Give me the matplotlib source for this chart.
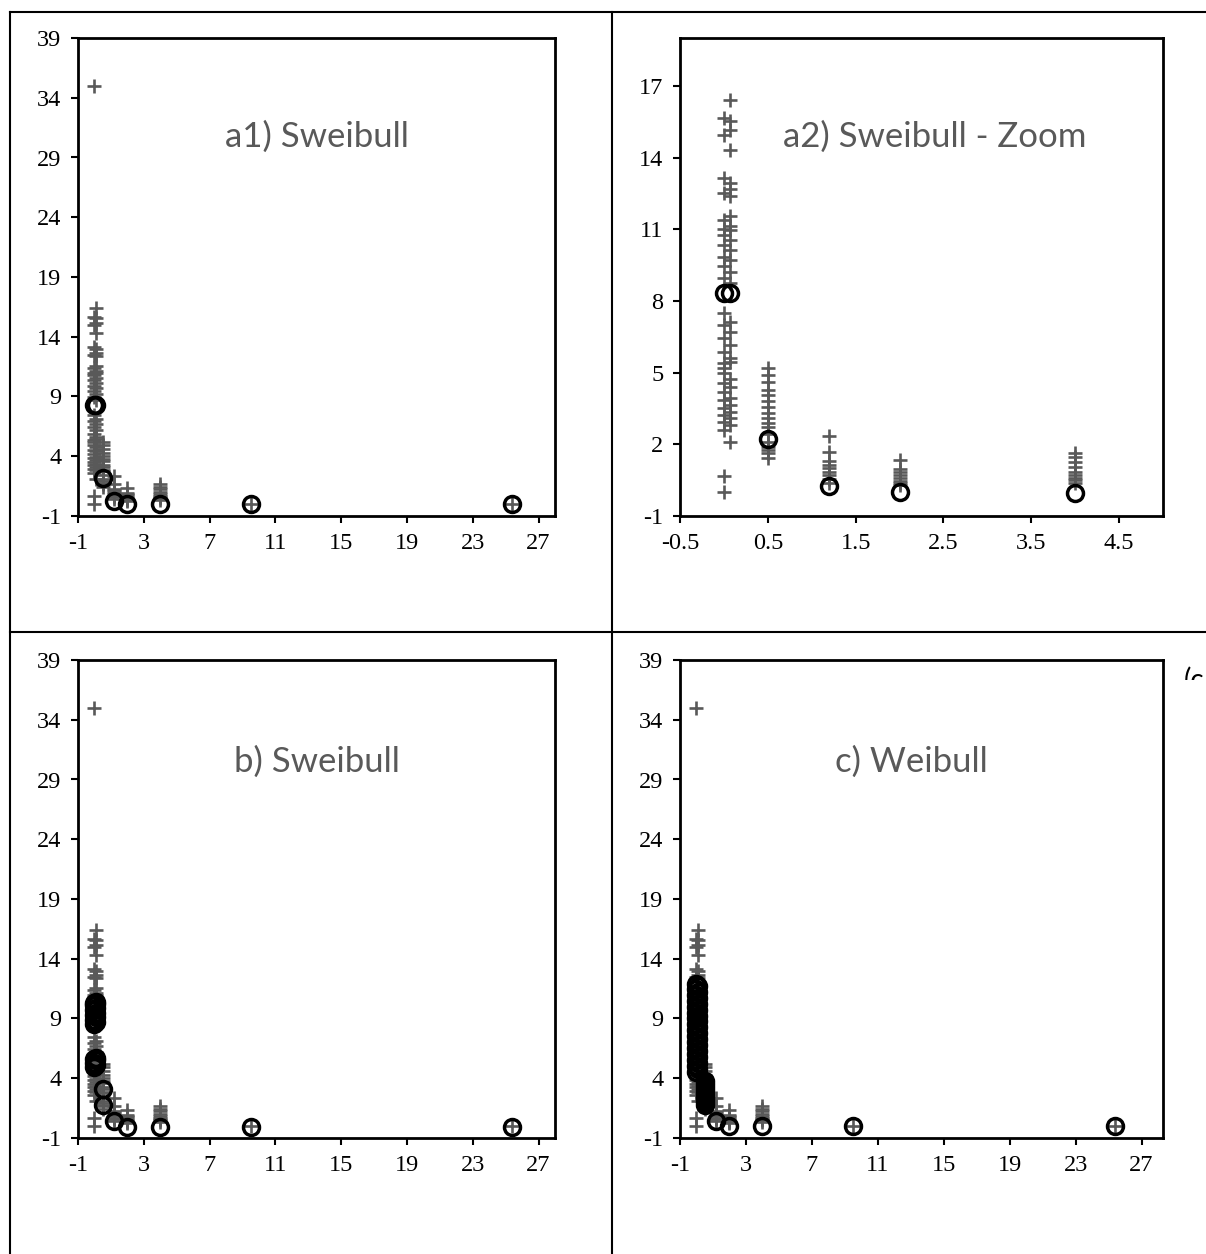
import matplotlib
matplotlib.use("Agg")
import matplotlib.pyplot as plt
from matplotlib.lines import Line2D
from matplotlib.transforms import Bbox, TransformedBbox

# observed values, one list per x level
y_at_0 = [35.0, 15.65, 14.95, 13.14, 12.51, 11.39, 11.0, 10.76, 10.34, 9.85, 9.44,
          8.95, 7.48, 6.99, 6.44, 5.88, 5.39, 5.18, 4.97, 4.55, 4.20, 3.85, 3.51,
          3.23, 2.95, 2.60, 0.67, 0.02]
y_at_0075 = [16.41, 15.53, 15.16, 14.32, 12.95, 12.68, 12.39, 11.56, 11.14, 10.97,
             10.55, 10.13, 9.72, 9.23, 8.74, 7.13, 6.71, 6.16, 5.60, 5.46, 4.75,
             4.41, 3.93, 3.65, 3.37, 3.09, 2.81, 2.11]
y_at_05 = [5.18, 4.90, 4.62, 4.27, 4.06, 3.80, 3.58, 3.30, 3.09, 2.88, 2.74, 2.45,
           2.10, 1.90, 1.75, 1.64, 1.41]
y_at_12 = [2.35, 1.69, 1.30, 1.15, 1.0, 0.85, 0.7, 0.55, 0.4]
y_at_2 = [1.34, 0.95, 0.84, 0.72, 0.6, 0.48, 0.36, 0.28]
y_at_4 = [1.64, 1.45, 1.25, 1.05, 0.85, 0.7, 0.6, 0.5, 0.38]
y_at_95 = [0.0]
y_at_254 = [0.0]
x_levels = [0.0, 0.075, 0.5, 1.2, 2.0, 4.0, 9.5, 25.4]

# fitted values
fit_a_x = [0.0, 0.075, 0.5, 1.2, 2.0, 4.0, 9.5, 25.4]
fit_a_y = [8.33, 8.33, 2.21, 0.25, 0.02, -0.03, 0.0, 0.0]

fit_b_x = [0.0, 0.075, 0.0, 0.075, 0.0, 0.075, 0.0, 0.075, 0.0, 0.075, 0.0, 0.075,
           0.0, 0.075, 0.0, 0.075, 0.0, 0.075,
           0.5, 0.5, 1.2, 2.0, 4.0, 9.5, 25.4]
fit_b_y = [8.5, 8.7, 8.9, 9.1, 9.3, 9.5, 9.7, 9.9, 10.1, 10.2, 10.3, 10.4,
           4.9, 5.1, 5.3, 5.5, 5.6, 5.7,
           3.1, 1.75, 0.45, -0.05, -0.05, -0.05, -0.05]

fit_c_x = [0.0, 0.075, 0.0, 0.075, 0.0, 0.075, 0.0, 0.075, 0.0, 0.075, 0.0, 0.075,
           0.0, 0.075, 0.0, 0.075, 0.0, 0.075, 0.0, 0.075, 0.0, 0.075, 0.0, 0.075,
           0.0, 0.075, 0.0, 0.075, 0.0, 0.075, 0.0,
           0.5, 0.5, 0.5, 0.5, 0.5, 0.5, 0.5, 0.5, 0.5,
           1.2, 2.0, 4.0, 9.5, 25.4]
fit_c_y = [4.5, 4.75, 5.0, 5.25, 5.5, 5.75, 6.0, 6.25, 6.5, 6.75, 7.0, 7.25,
           7.5, 7.75, 8.0, 8.25, 8.5, 8.75, 9.0, 9.25, 9.5, 9.75, 10.0, 10.25,
           10.5, 10.75, 11.0, 11.25, 11.5, 11.7, 11.85,
           1.8, 2.05, 2.3, 2.55, 2.8, 3.05, 3.3, 3.55, 3.8,
           0.44, 0.03, 0.03, 0.0, 0.0]

titles = ["a1) Sweibull", "a2) Sweibull - Zoom", "b) Sweibull", "c) Weibull"]

obs_groups = [y_at_0, y_at_0075, y_at_05, y_at_12, y_at_2, y_at_4, y_at_95, y_at_254]
obs_x = []
obs_y = []
for xv, ys in zip(x_levels, obs_groups):
    obs_x += [xv] * len(ys)
    obs_y += ys

W, H = 1206, 1254
fig = plt.figure(figsize=(W / 100, H / 100), dpi=100)

GRAY = "#595959"
tick_font = {"family": "Liberation Serif", "size": 17.5}


def px_axes(l, r, t, b):
    return fig.add_axes([l / W, 1 - b / H, (r - l) / W, (b - t) / H])


def draw_panel(ax, fx, fy, title, tx, ty, xlim, xticks, ylim, yticks):
    ax.plot(obs_x, obs_y, linestyle="none", marker="+", markersize=10,
            markeredgewidth=1.9, color=GRAY, zorder=2)
    ax.plot(fx, fy, linestyle="none", marker="o", markersize=11.5,
            markeredgewidth=2.5, markeredgecolor="black", markerfacecolor="none",
            zorder=3)
    ax.set_xlim(*xlim)
    ax.set_ylim(*ylim)
    ax.set_xticks(xticks)
    ax.set_yticks(yticks)
    ax.set_xticklabels([f"{v:g}" for v in xticks], fontdict=tick_font)
    ax.set_yticklabels([f"{v:g}" for v in yticks], fontdict=tick_font)
    ax.tick_params(direction="out", length=5, width=1.5, pad=7)
    for s in ax.spines.values():
        s.set_linewidth(2)
    ax.text(tx, ty, title, transform=ax.transAxes, ha="center", va="center",
            fontsize=25, color=GRAY, family="Lato")


big_xt = list(range(-1, 28, 4))
big_yt = list(range(-1, 40, 5))

ax1 = px_axes(78, 555, 38, 516)
draw_panel(ax1, fit_a_x, fit_a_y, titles[0], 0.5, 0.793, (-1, 28), big_xt, (-1, 39), big_yt)

ax2 = px_axes(680, 1163, 38, 516)
draw_panel(ax2, fit_a_x, fit_a_y, titles[1], 0.528, 0.793, (-0.5, 5),
           [-0.5, 0.5, 1.5, 2.5, 3.5, 4.5], (-1, 19), [-1, 2, 5, 8, 11, 14, 17])

ax3 = px_axes(78, 555, 660, 1138)
draw_panel(ax3, fit_b_x, fit_b_y, titles[2], 0.5, 0.787, (-1, 28), big_xt, (-1, 39), big_yt)

ax4 = px_axes(680, 1163, 660, 1138)
draw_panel(ax4, fit_c_x, fit_c_y, titles[3], 0.48, 0.787, (-1, 28.3), big_xt, (-1, 39), big_yt)


# table grid lines around the panels
def hline(y, x0, x1):
    fig.add_artist(Line2D([x0 / W, x1 / W], [1 - y / H, 1 - y / H], color="black", lw=1.5))


def vline(x, y0, y1):
    fig.add_artist(Line2D([x / W, x / W], [1 - y0 / H, 1 - y1 / H], color="black", lw=1.5))


hline(12, 10, W)
hline(632, 10, W)
vline(10, 12, H)
vline(612, 12, H)

# clipped text fragment at the right edge
t = fig.text(1184 / W, 1 - 689 / H, "(c", fontsize=20, color="black", family="Lato",
             ha="left", va="baseline")
t.set_clip_box(TransformedBbox(Bbox([[1170 / W, 1 - 680 / H], [1.0, 1 - 660 / H]]),
                               fig.transFigure))
t.set_clip_on(True)

fig.savefig("out.png", dpi=100)
